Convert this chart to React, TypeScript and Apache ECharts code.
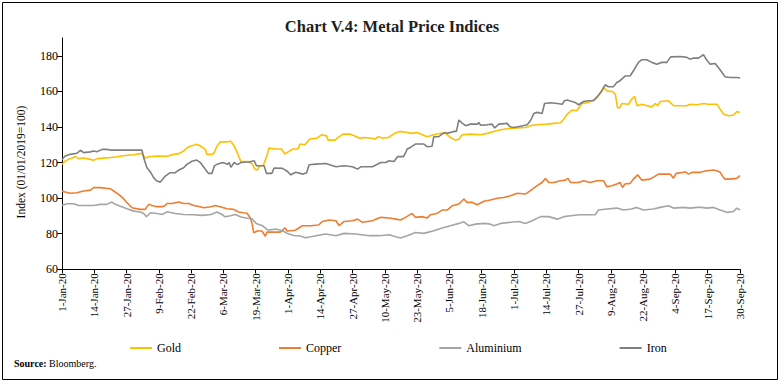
import React, { useEffect, useRef } from "react";
import * as echarts from "echarts";

const tickLabels = [
  "1-Jan-20", "14-Jan-20", "27-Jan-20", "9-Feb-20", "22-Feb-20", "6-Mar-20",
  "19-Mar-20", "1-Apr-20", "14-Apr-20", "27-Apr-20", "10-May-20", "23-May-20",
  "5-Jun-20", "18-Jun-20", "1-Jul-20", "14-Jul-20", "27-Jul-20", "9-Aug-20",
  "22-Aug-20", "4-Sep-20", "17-Sep-20", "30-Sep-20",
];
const yTicks = [60, 80, 100, 120, 140, 160, 180];
const seriesNames = ["Gold", "Copper", "Aluminium", "Iron"];
const seriesColors = ["#FFC000", "#ED7D31", "#A5A5A5", "#7F7F7F"];

// [day since 1-Jan-2020, index value]
const gold: [number, number][] = [
  [0, 119], [1.3, 120.9], [3.3, 122.2], [5.4, 123.3], [6.7, 122.2], [8.7, 122.6], [11.4, 121.8], [12.7, 121.2],
  [14.1, 122.2], [18.1, 122.6], [22.1, 123.3], [26.2, 124.1], [28.9, 124.4], [31.5, 125], [32.2, 125.2], [33.5, 122.6],
  [34.9, 123.3], [38.2, 123.7], [42.3, 123.5], [44.9, 124.6], [47, 125], [49, 126.5], [51, 128.9], [53, 129.7],
  [54.3, 130.3], [55.7, 129.3], [57.7, 127.4], [58.4, 124.6], [60.4, 124.6], [61.3, 125.6], [62.4, 129.3], [63.7, 131.6],
  [66.4, 131.6], [67.8, 132.1], [69.3, 129.4], [70.5, 125.7], [72, 120.6], [75, 120.6], [76.7, 119.1], [77.6, 116.3],
  [78.6, 115.8], [79.6, 118.2], [81, 118.2], [82.5, 123.8], [83.3, 128.1], [86, 127.6], [88.4, 127.6], [89.7, 124.8],
  [91.7, 126.6], [93, 127.6], [95, 127.6], [95.8, 130.4], [97.8, 130], [99.8, 133.2], [102.5, 133.6], [104.5, 135.6],
  [106.5, 135], [107.2, 132.6], [109.9, 132.6], [111.2, 134.1], [113.2, 136], [115.9, 136], [117.9, 134.9], [119.9, 133.6],
  [121.9, 134.1], [124.6, 133.7], [126, 133.2], [127.3, 134.5], [129.3, 133.7], [131.3, 134.1], [134, 136.4], [136, 137.5],
  [139, 136.9], [141, 136.4], [143, 136.9], [147, 134.5], [149.7, 135.6], [153, 136.6], [154.4, 136.4], [156.4, 134.1],
  [158.4, 132.6], [159.8, 133.1], [161.1, 135.6], [164.5, 136], [168.5, 135.6], [171.2, 136.4], [173.9, 137.5], [176.6, 138.4],
  [179.3, 139], [183.3, 139.4], [186.6, 139.7], [189.3, 141], [192.7, 141.4], [195.4, 141.6], [198, 142], [200.7, 142.4],
  [202.1, 144.4], [203.4, 147.2], [205.4, 149.5], [207.3, 149.1], [209.3, 153.2], [212, 153.8], [214.7, 155.7], [216.7, 158.8],
  [218, 162.2], [219.4, 160.3], [221.8, 159.8], [222.8, 158.5], [223.7, 150.6], [224.7, 151], [225.4, 153.2], [228.1, 152.8],
  [229.5, 155.7], [230.6, 157.2], [231.5, 151.9], [233.5, 152.8], [235.5, 151.9], [237.5, 151.3], [238.9, 153.2], [239.8, 151.9],
  [240.9, 154.3], [244.2, 154.7], [246.3, 151.9], [248.9, 151.9], [251.6, 151.9], [252.9, 152.8], [255.7, 152.5], [258.3, 153.2],
  [260.3, 152.8], [263.7, 152.8], [265, 150], [266.4, 147.2], [268.4, 146.3], [270.4, 146.7], [271.8, 148.7], [273, 148.1],
];

const copper: [number, number][] = [
  [0, 104], [1.3, 103.4], [3.3, 102.7], [6, 103], [8.7, 104], [11.4, 104.5], [12.7, 105.9], [15.4, 105.9],
  [19.4, 105.3], [20.8, 104], [22.8, 102.1], [24.8, 99.7], [26.2, 97.4], [28.2, 94.6], [31.5, 93.7], [33.5, 93.7],
  [34.9, 96.5], [36.2, 95.9], [38.2, 95.2], [40.3, 95.2], [41.6, 95.9], [42.3, 97], [44.3, 97], [47, 97.8],
  [49, 97], [51, 97], [53, 95.9], [55.7, 95.2], [57, 94.6], [60, 95.2], [61.7, 95.9], [63.7, 95.2],
  [66.4, 94], [69.1, 93.7], [71.1, 92.2], [73, 91.8], [74.5, 91.5], [75.8, 89], [76.5, 86], [77.2, 80.5],
  [78.5, 81.5], [80.5, 81.5], [81.9, 78.6], [82.5, 80.9], [85.2, 80.9], [87.9, 80.9], [89.9, 83.3], [90.6, 81.5],
  [93.3, 81.8], [94.1, 82.1], [96.8, 84.5], [100.2, 84.5], [103.3, 84.9], [104.9, 86.9], [107.6, 87.7], [110.3, 87.3],
  [111.6, 84.5], [113.6, 86.9], [117, 87.3], [119, 88.2], [121, 86.4], [125, 87.3], [126.4, 88.2], [128.4, 89.2],
  [131.7, 88.8], [134.4, 88.2], [136.3, 87.7], [138.3, 89.2], [141, 91.4], [142.3, 89.2], [145, 89.6], [147, 88.8],
  [148.4, 90.7], [151, 91.4], [153.1, 93.3], [155.1, 93.3], [157.1, 95.7], [159.8, 96.7], [161.8, 99.5], [163.1, 97.6],
  [165.2, 97.6], [167.2, 96.3], [169.9, 98.2], [172.5, 98.9], [175.2, 99.9], [177.9, 100.4], [180.6, 101.3], [183.3, 102.7],
  [186.6, 102.3], [188.6, 104.2], [191.3, 107], [193.3, 108.8], [194.7, 111.1], [196, 108.8], [198, 108.8], [200.7, 109.8],
  [202.7, 110.1], [203.7, 111.1], [204.8, 108.8], [206.8, 108.8], [208, 108.8], [210, 109.8], [212.7, 108.8], [215.3, 109.8],
  [218, 109.8], [219.4, 106.4], [221.4, 107], [223.4, 107.9], [224.7, 108.8], [225.7, 106], [226.7, 107.9], [228.8, 108.3],
  [230.1, 110.7], [231.8, 113.1], [233.5, 110.1], [236.8, 110.7], [240.2, 113.5], [244.9, 113.5], [246.2, 111.2], [247.3, 113.9],
  [250.2, 114.5], [251, 114.8], [252.3, 113.5], [253.6, 114.5], [256.9, 114.5], [259.6, 115.4], [262.3, 115.8], [263.7, 115.4],
  [265, 114.5], [266.4, 111.5], [267, 110.7], [269, 110.7], [271.7, 111.1], [273, 112.6],
];

const aluminium: [number, number][] = [
  [0, 95.9], [2, 96.8], [4.7, 96.8], [6.7, 95.9], [8.7, 95.9], [12.7, 95.9], [15.4, 96.5], [18.1, 96.5],
  [20.1, 97.8], [21.5, 96.5], [23.5, 95.5], [26.2, 94], [28.9, 92.7], [31.5, 92.2], [32.9, 91.4], [34, 89.5],
  [35.6, 91.8], [38.2, 91.4], [40.3, 90.8], [42.3, 92.3], [45.6, 91.4], [49, 90.8], [53, 90.7], [56.4, 90.3],
  [60, 90.8], [62.4, 92.2], [64.4, 90.8], [65.7, 89.5], [67.8, 90.1], [69.8, 90.8], [71.8, 89.5], [74, 88.8],
  [76.5, 88.4], [78.2, 85.8], [80.7, 84.5], [82.5, 82.4], [83.4, 82.1], [86.1, 82.6], [88.8, 81.7], [90.6, 80.2],
  [93.3, 79], [96, 78.7], [98, 77.7], [100.2, 78.3], [102.2, 78.9], [106.2, 79.8], [110.3, 78.9], [113.6, 80.2],
  [118.3, 79.8], [123.7, 78.9], [127.7, 78.9], [131.7, 79.4], [134.4, 78.3], [136.3, 77.6], [139, 78.9], [142.3, 80.7],
  [145.7, 80.2], [149.7, 81.7], [153.1, 83.2], [156.4, 84.5], [159.8, 85.8], [161.8, 86.7], [163.8, 84.5], [166.5, 85.4],
  [169.9, 85.8], [172.5, 85.4], [173.9, 84.5], [176.6, 85.8], [180.6, 86.4], [184, 86.9], [186.6, 85.8], [189.3, 87.3],
  [192.7, 89.6], [196, 89.6], [199.4, 88.2], [202.1, 89.6], [204.8, 90.1], [208.6, 90.7], [211.3, 90.7], [214.7, 90.7],
  [216, 93.3], [219.4, 93.9], [223.4, 94.4], [226.1, 93.3], [229.4, 93.9], [231.4, 94.8], [234.1, 93.3], [238.2, 93.9],
  [240.8, 94.8], [244.2, 95.7], [246.2, 94.4], [250.2, 94.8], [252.9, 94.4], [255.6, 94.8], [257.6, 94.8], [259.6, 94.4],
  [262.3, 94.8], [265, 93.3], [267.7, 92], [270.4, 92.5], [271.7, 94.4], [273, 93.3],
];

const iron: [number, number][] = [
  [0, 121.8], [1.3, 123.7], [3.3, 124.6], [6, 125.2], [7.4, 126.9], [8.7, 125.6], [11.4, 126], [12.7, 126.5],
  [14.1, 126.1], [16.1, 127.4], [18.1, 127.4], [19.4, 127], [32.2, 127], [32.9, 122.7], [34.2, 117.1], [35.6, 114.7],
  [36.9, 111.5], [38.2, 109.6], [39.6, 109], [40.3, 110.2], [41.6, 112.4], [43.6, 114.3], [45.6, 114.3], [47, 115.8],
  [49, 117.1], [50.3, 119], [52.3, 120.7], [54.3, 121.4], [55.7, 120], [57.7, 116.2], [59, 113.9], [60.4, 113.9],
  [61.3, 118.1], [62.4, 119], [64.7, 120], [66.7, 119], [67.3, 120], [68, 117.3], [69.3, 120], [70.7, 118.8],
  [72, 120], [75.4, 120.3], [77.4, 121], [78.3, 118.2], [81.4, 118.2], [82.3, 113.9], [84.5, 113.9], [85.4, 116.9],
  [88.8, 116.7], [90.8, 115], [92.1, 113.1], [94.1, 114.5], [97.1, 113.5], [98.5, 114.3], [99.5, 118.8], [102.2, 119.1],
  [106.2, 119.5], [110.3, 117.6], [113.6, 118.2], [117, 117.6], [119, 116.3], [120.3, 117.6], [125, 117.6], [128.4, 120],
  [130.4, 120], [131.7, 121], [133.7, 120.6], [135.1, 123.3], [137.5, 123.3], [138.5, 126], [139, 127.6], [140.3, 128.5],
  [142.3, 130.4], [145.7, 130.4], [147, 128.9], [149, 129.2], [149.7, 134.5], [151.7, 134.5], [153, 136], [154.4, 136.9],
  [155.1, 136.4], [157.8, 137.5], [158.8, 137.5], [159.8, 143.9], [161.1, 142.2], [162.5, 140.7], [164.5, 141.6], [167.2, 141.6],
  [167.8, 142.5], [168.5, 141], [171.2, 141.2], [173.2, 141.6], [174.2, 139.4], [175.9, 141.6], [179.3, 142], [180.3, 140.1],
  [181.9, 139.7], [184.6, 140.4], [187.3, 141.2], [188.6, 143.5], [190, 147.6], [191.3, 148.2], [193.3, 147.6], [194.3, 153.2],
  [196.7, 153.6], [199.4, 153.2], [201.4, 152.8], [202.3, 154.7], [203.4, 155.1], [205.4, 154.3], [206.6, 153.8], [208, 152.5],
  [210, 154.3], [212, 154.7], [214, 154.7], [215.3, 156.6], [217.4, 160.3], [218.7, 163.7], [220, 162.6], [222, 162.6],
  [223.4, 165], [224.7, 166], [226.7, 168.6], [228.8, 168.8], [230.1, 171.6], [232.1, 176.3], [233.5, 177.8], [235.5, 177.8],
  [237.5, 176.3], [239.5, 175.3], [241.5, 176.3], [243.5, 176.3], [245.1, 179.4], [248.9, 179.6], [251.6, 179.1], [252.9, 178.1],
  [254.3, 178.7], [256.3, 178.7], [257.6, 180], [258.3, 180.6], [259.6, 177.6], [261, 175.3], [263, 175.7], [264.3, 173.4],
  [267, 168.2], [269, 167.8], [271.7, 167.8], [273, 167.5],
];

const seriesData = [gold, copper, aluminium, iron];
const FONT = "Liberation Serif";

export default function App() {
  const ref = useRef<HTMLDivElement>(null);
  useEffect(() => {
    if (!ref.current) return;
    const chart = echarts.init(ref.current, null, { renderer: "svg" });
    chart.setOption({
      animation: false,
      backgroundColor: "#ffffff",
      title: {
        text: "Chart V.4: Metal Price Indices",
        left: "center",
        top: 13,
        textStyle: { fontFamily: FONT, fontWeight: "bold", fontSize: 16.5, color: "#231f20" },
      },
      grid: { left: 62, right: 44, top: 38, bottom: 114.7 },
      xAxis: {
        type: "value",
        min: 0,
        max: 273,
        interval: 13,
        splitLine: { show: false },
        axisLine: { show: true, lineStyle: { color: "#000", width: 1 } },
        axisTick: { show: true, length: 4, lineStyle: { color: "#000" } },
        axisLabel: {
          rotate: 90,
          margin: 4,
          fontFamily: FONT,
          fontSize: 11,
          color: "#000",
          formatter: (v: number) => tickLabels[Math.round(v / 13)] ?? "",
        },
      },
      yAxis: {
        type: "value",
        min: 60,
        max: 190,
        interval: 10,
        splitLine: { show: false },
        axisLine: { show: true, lineStyle: { color: "#000", width: 1 } },
        axisTick: { show: true, length: 5, lineStyle: { color: "#000" }, customValues: yTicks },
        axisLabel: { margin: 4, fontFamily: FONT, fontSize: 12, color: "#000", customValues: yTicks },
      },
      legend: {
        top: 337,
        left: 125,
        icon: "rect",
        itemWidth: 22,
        itemHeight: 2,
        itemGap: 98,
        textStyle: { fontFamily: FONT, fontSize: 12, color: "#000" },
        data: seriesNames,
      },
      series: seriesNames.map((name, i) => ({
        name,
        type: "line",
        data: seriesData[i],
        symbol: "none",
        showSymbol: false,
        color: seriesColors[i],
        lineStyle: { color: seriesColors[i], width: 1.6 },
      })),
      graphic: [
        {
          type: "rect",
          shape: { x: 2.5, y: 2.5, width: 775, height: 377 },
          style: { fill: "none", stroke: "#000", lineWidth: 1 },
          silent: true,
        },
        {
          type: "text",
          x: 21,
          y: 162,
          rotation: Math.PI / 2,
          style: {
            text: "Index (01/01/2019=100)",
            fontFamily: FONT,
            fontSize: 11.5,
            fill: "#000",
            align: "center",
            verticalAlign: "middle",
          },
          silent: true,
        },
        {
          type: "text",
          left: 14,
          top: 358,
          style: {
            text: "{b|Source:} Bloomberg.",
            fontFamily: FONT,
            fontSize: 10,
            fill: "#000",
            rich: { b: { fontFamily: FONT, fontSize: 10, fontWeight: "bold", fill: "#000" } },
          },
        },
      ],
    });
    return () => chart.dispose();
  }, []);
  return (
    <div
      ref={ref}
      style={{ position: "absolute", left: 0, top: 0, width: 784, height: 384, background: "#fff" }}
    />
  );
}
